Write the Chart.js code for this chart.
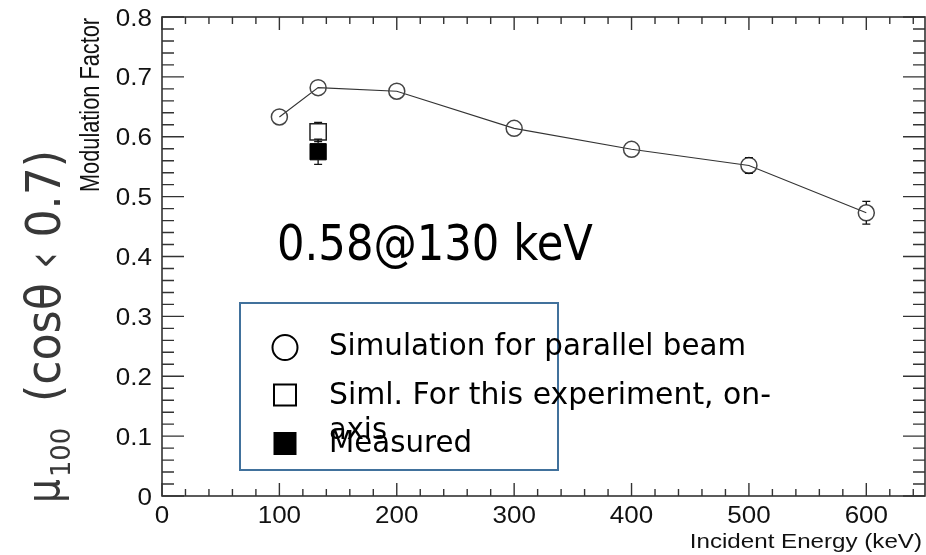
<!DOCTYPE html>
<html>
<head>
<meta charset="utf-8">
<script src="https://cdn.jsdelivr.net/npm/chart.js@4.4.1/dist/chart.umd.min.js"></script>
<style>
  html, body { margin: 0; padding: 0; background: #fff; }
  #wrap { width: 926px; height: 555px; position: relative; }
</style>
</head>
<body>
<div id="wrap"><canvas id="c" width="926" height="555"></canvas></div>
<script>
// Incident energies (keV) and modulation factors
const energies = [100, 133, 200, 300, 400, 500, 600];
const simParallel = [0.633, 0.682, 0.676, 0.614, 0.579, 0.552, 0.473];
const simParallelErr = [0.004, 0.005, 0.005, 0.006, 0.007, 0.013, 0.019];

const expEnergy = [133];
const simOnAxis = [0.608];
const simOnAxisErr = [0.016];
const measured = [0.575];
const measuredErr = [0.021];

const xTickValues = [0, 100, 200, 300, 400, 500, 600];
const yTickValues = [0, 0.1, 0.2, 0.3, 0.4, 0.5, 0.6, 0.7, 0.8];
const xTickLabels = ['0', '100', '200', '300', '400', '500', '600'];
const yTickLabels = ['0', '0.1', '0.2', '0.3', '0.4', '0.5', '0.6', '0.7', '0.8'];

const seriesLabels = ['Simulation for parallel beam', 'Siml. For this experiment, on-axis', 'Measured'];
const xTitle = 'Incident Energy (keV)';
const yTitle = 'Modulation Factor';
const highlight = '0.58@130 keV';

const toPoints = (xs, ys) => xs.map((x, i) => ({ x: x, y: ys[i] }));

const AXIS_FONT = '"Liberation Sans", Arial, sans-serif';
const NOTE_FONT = '"DejaVu Sans", sans-serif';

// text with horizontal stretch
function stretchText(ctx, str, x, y, align, sx, font, color) {
  ctx.save();
  ctx.font = font;
  ctx.fillStyle = color || '#111';
  ctx.textAlign = align;
  ctx.textBaseline = 'alphabetic';
  ctx.translate(x, y);
  ctx.scale(sx, 1);
  ctx.fillText(str, 0, 0);
  ctx.restore();
}

// text squeezed/stretched to a given width, left aligned
function fitText(ctx, str, x, y, width, font, color) {
  ctx.save();
  ctx.font = font;
  const w = ctx.measureText(str).width;
  ctx.fillStyle = color || '#000';
  ctx.textAlign = 'left';
  ctx.textBaseline = 'alphabetic';
  ctx.translate(x, y);
  ctx.scale(width / w, 1);
  ctx.fillText(str, 0, 0);
  ctx.restore();
}

// vertical text reading upward from (xBase, yStart) over a given length
function upText(ctx, str, xBase, yStart, length, font, color, cross) {
  ctx.save();
  ctx.font = font;
  const w = ctx.measureText(str).width;
  ctx.fillStyle = color || '#000';
  ctx.textAlign = 'left';
  ctx.textBaseline = 'alphabetic';
  ctx.translate(xBase, yStart);
  ctx.rotate(-Math.PI / 2);
  ctx.scale(length / w, cross || 1);
  ctx.fillText(str, 0, 0);
  ctx.restore();
}

const decorations = {
  id: 'decorations',
  afterDatasetsDraw(chart) {
    const ctx = chart.ctx;
    const ys = chart.scales.y;
    ctx.save();
    ctx.strokeStyle = '#111';
    ctx.lineWidth = 1.3;
    chart.data.datasets.forEach((ds, i) => {
      if (!ds.errors) return;
      const meta = chart.getDatasetMeta(i);
      meta.data.forEach((el, j) => {
        const v = ds.data[j].y;
        const e = ds.errors[j];
        const half = ds.markerHalf;
        const yt = ys.getPixelForValue(v + e);
        const yb = ys.getPixelForValue(v - e);
        if (el.y - yt < half * 0.9) return;
        ctx.beginPath();
        if (el.y - yt > half) { ctx.moveTo(el.x, el.y - half); ctx.lineTo(el.x, yt); }
        if (yb - el.y > half) { ctx.moveTo(el.x, el.y + half); ctx.lineTo(el.x, yb); }
        ctx.moveTo(el.x - 4, yt); ctx.lineTo(el.x + 4, yt);
        ctx.moveTo(el.x - 4, yb); ctx.lineTo(el.x + 4, yb);
        ctx.stroke();
      });
    });
    ctx.restore();
  },
  afterDraw(chart) {
    const ctx = chart.ctx;
    const a = chart.chartArea;
    const xs = chart.scales.x;
    const ys = chart.scales.y;

    // frame and inward ticks on all four sides
    ctx.save();
    ctx.strokeStyle = '#333';
    ctx.lineWidth = 1.6;
    ctx.strokeRect(a.left, a.top, a.right - a.left, a.bottom - a.top);
    ctx.lineWidth = 1.4;
    ctx.beginPath();
    for (let k = 0; k <= 32; k++) {
      const v = k * 20;
      const px = xs.getPixelForValue(v);
      const len = (v % 100 === 0) ? 13 : 7;
      ctx.moveTo(px, a.bottom); ctx.lineTo(px, a.bottom - len);
      ctx.moveTo(px, a.top); ctx.lineTo(px, a.top + len);
    }
    for (let k = 0; k <= 40; k++) {
      const py = ys.getPixelForValue(k * 0.02);
      const len = (k % 5 === 0) ? 22 : 12;
      ctx.moveTo(a.left, py); ctx.lineTo(a.left + len, py);
      ctx.moveTo(a.right, py); ctx.lineTo(a.right - len, py);
    }
    ctx.stroke();
    ctx.restore();

    // tick labels
    const tickFont = '23px ' + AXIS_FONT;
    yTickValues.forEach((v, i) => {
      stretchText(ctx, yTickLabels[i], a.left - 10, ys.getPixelForValue(v) + 8.5, 'right', 1.13, tickFont, '#111');
    });
    xTickValues.forEach((v, i) => {
      stretchText(ctx, xTickLabels[i], xs.getPixelForValue(v), a.bottom + 27, 'center', 1.13, tickFont, '#111');
    });

    // axis titles
    stretchText(ctx, xTitle, a.right - 3, 548, 'right', 1.15, '21px ' + AXIS_FONT, '#111');
    upText(ctx, yTitle, 99, 192, 174, '22px ' + AXIS_FONT, '#111', 1.25);

    // quantity label on the far left
    upText(ctx, '\u03BC', 59, 503, 24, '46px ' + NOTE_FONT, '#383838');
    upText(ctx, '100', 70, 477, 49, '27px ' + NOTE_FONT, '#383838');
    upText(ctx, '(cos\u03B8 \u2039 0.7)', 60, 402, 252, '48px ' + NOTE_FONT, '#383838');

    // highlighted value
    fitText(ctx, highlight, 277, 260, 316, '49px ' + NOTE_FONT, '#000');

    // legend box
    ctx.save();
    ctx.fillStyle = '#fff';
    ctx.fillRect(240, 303, 318, 167);
    ctx.strokeStyle = '#41719c';
    ctx.lineWidth = 2;
    ctx.strokeRect(240, 303, 318, 167);
    ctx.strokeStyle = '#000';
    ctx.lineWidth = 2;
    ctx.beginPath();
    ctx.arc(285, 347.5, 12.5, 0, Math.PI * 2);
    ctx.stroke();
    ctx.strokeRect(274, 384.5, 22, 21);
    ctx.fillStyle = '#000';
    ctx.fillRect(273.5, 432, 23, 23);
    ctx.restore();

    const legFont = '30px ' + NOTE_FONT;
    fitText(ctx, seriesLabels[0], 329, 355, 417, legFont, '#000');
    const wrapAt = seriesLabels[1].indexOf('on-') + 3;
    fitText(ctx, seriesLabels[1].slice(0, wrapAt), 329, 404, 442, legFont, '#000');
    fitText(ctx, seriesLabels[1].slice(wrapAt), 329, 439, 58, legFont, '#000');
    fitText(ctx, seriesLabels[2], 329, 452, 143, legFont, '#000');
  }
};

new Chart(document.getElementById('c'), {
  type: 'scatter',
  data: {
    datasets: [
      {
        label: seriesLabels[0],
        data: toPoints(energies, simParallel),
        errors: simParallelErr,
        markerHalf: 8,
        showLine: true,
        borderColor: '#333',
        borderWidth: 1.1,
        pointStyle: 'circle',
        pointRadius: 8,
        pointBorderWidth: 1.5,
        pointBorderColor: '#444',
        pointBackgroundColor: 'rgba(0,0,0,0)'
      },
      {
        label: seriesLabels[1],
        data: toPoints(expEnergy, simOnAxis),
        errors: simOnAxisErr,
        markerHalf: 8,
        showLine: false,
        pointStyle: 'rect',
        pointRadius: 11.5,
        pointBorderWidth: 1.5,
        pointBorderColor: '#222',
        pointBackgroundColor: '#fff'
      },
      {
        label: seriesLabels[2],
        data: toPoints(expEnergy, measured),
        errors: measuredErr,
        markerHalf: 8,
        showLine: false,
        pointStyle: 'rect',
        pointRadius: 11.5,
        pointBorderWidth: 1,
        pointBorderColor: '#000',
        pointBackgroundColor: '#000'
      }
    ]
  },
  options: {
    responsive: false,
    animation: false,
    devicePixelRatio: 1,
    layout: { autoPadding: false, padding: { top: 17, right: 1, left: 0, bottom: 0 } },
    plugins: { legend: { display: false }, tooltip: { enabled: false } },
    scales: {
      x: {
        type: 'linear', min: 0, max: 650,
        grid: { display: false }, border: { display: false },
        ticks: { display: false },
        afterFit(s) { s.height = 59; }
      },
      y: {
        type: 'linear', min: 0, max: 0.8,
        grid: { display: false }, border: { display: false },
        ticks: { display: false },
        afterFit(s) { s.width = 162; }
      }
    }
  },
  plugins: [decorations]
});
</script>
</body>
</html>
